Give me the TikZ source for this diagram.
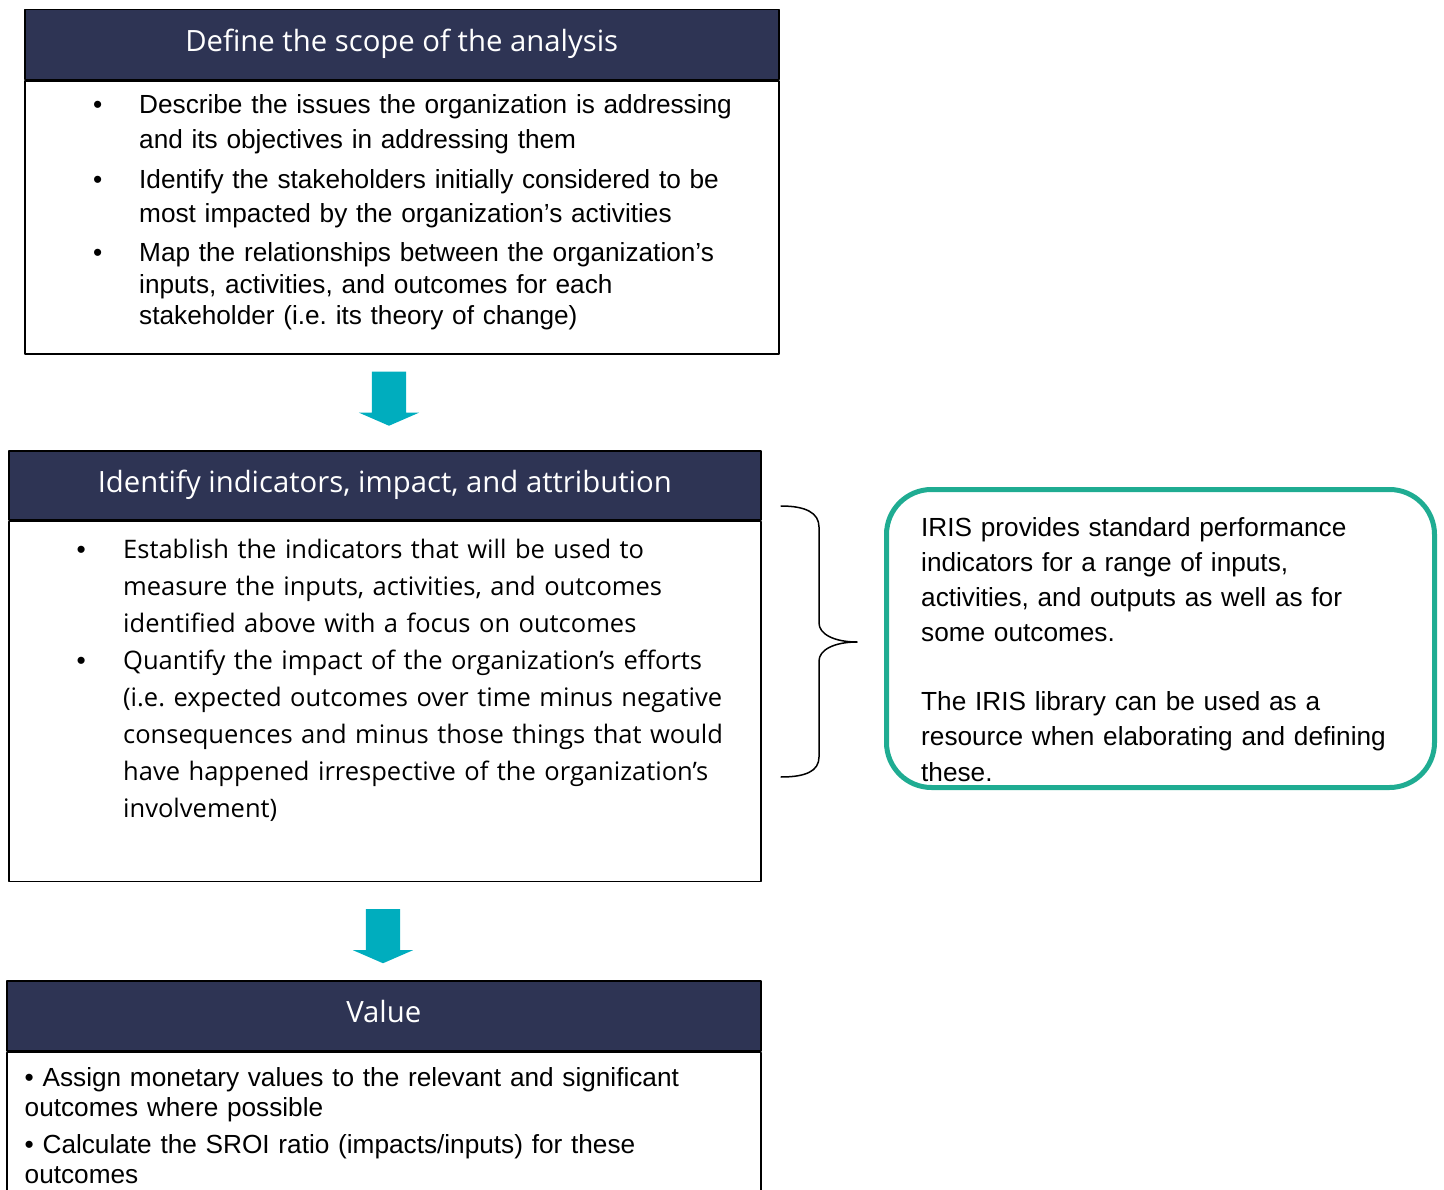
\documentclass[tikz,border=0pt]{standalone}
\usepackage{fontspec}
\setmainfont{Liberation Sans}
\newfontfamily\opensans{Open Sans}
\usepackage{tikz}
\usetikzlibrary{shapes.arrows,positioning}
\frenchspacing
\definecolor{headnavy}{HTML}{2E3454}
\definecolor{arrowcyan}{HTML}{00ADBE}
\definecolor{irisgreen}{HTML}{1FAC92}
\tikzset{
  every picture/.style={line join=round, line cap=round},
  headbox/.style={draw=black, line width=1.5pt, fill=headnavy, minimum height=70, inner sep=0pt,
    text height=21pt, text depth=7pt, text=white, font=\opensans\fontsize{29.3}{35}\selectfont},
  bodybox/.style={draw=black, line width=1.5pt, fill=white, inner sep=0pt},
  flowarrow/.style={single arrow, fill=arrowcyan, draw=none, inner sep=0pt, rotate=-90,
    minimum width=60, minimum height=54, single arrow head extend=13, single arrow tip angle=133},
  dot/.style={anchor=base west, inner sep=0pt, font=\fontsize{26.2}{35}\selectfont},
  arialtext/.style={anchor=base west, inner sep=0pt, align=left, text width=#1},
  opentext/.style={anchor=base west, inner sep=0pt, align=left, text width=#1,
    font=\opensans\fontsize{25.5}{37}\selectfont},
  irisbox/.style={draw=irisgreen, line width=5pt, rounded corners=45, inner sep=0pt},
  brace/.style={draw=black, line width=1.5pt},
}
\begin{document}
\begin{tikzpicture}[x=1pt,y=-1pt]
\useasboundingbox (0,0) rectangle (1444,1190);
\clip (0,0) rectangle (1444,1190);

% first step
\node[headbox, minimum width=754, anchor=north west] (scopehead) at (24,9) {Define the scope of the analysis};
\node[bodybox, minimum width=754, minimum height=273, anchor=north west] (scopebody) at (scopehead.south west) {};
\node[dot] (scopedot1) at (93,114) {•};
\node[arialtext=640, font=\fontsize{26.2}{35}\selectfont] (scopeitem1) at (139,114)
  {Describe the issues the organization is addressing\\and its objectives in addressing them};
\node[dot] (scopedot2) at (93,189) {•};
\node[arialtext=640, font=\fontsize{26.2}{34}\selectfont] (scopeitem2) at (139,189)
  {Identify the stakeholders initially considered to be\\most impacted by the organization’s activities};
\node[dot] (scopedot3) at (93,262) {•};
\node[arialtext=640, font=\fontsize{26.2}{31.5}\selectfont] (scopeitem3) at (139,262)
  {Map the relationships between the organization’s\\inputs, activities, and outcomes for each\\stakeholder (i.e. its theory of change)};

\node[flowarrow] (arrowone) at (389,395) {\rule{0pt}{34pt}};

% second step
\node[headbox, minimum width=752, minimum height=69, anchor=north west] (impacthead) at (8,450) {Identify indicators, impact, and attribution};
\node[bodybox, minimum width=752, minimum height=360, anchor=north west] (impactbody) at (impacthead.south west) {};
\node[dot] (impactdot1) at (76.5,558) {•};
\node[opentext=650] (impactitem1) at (123,558)
  {Establish the indicators that will be used to\\measure the inputs, activities, and outcomes\\identified above with a focus on outcomes};
\node[dot] (impactdot2) at (76.5,669) {•};
\node[opentext=650] (impactitem2) at (123,669)
  {Quantify the impact of the organization’s efforts\\(i.e. expected outcomes over time minus negative\\consequences and minus those things that would\\have happened irrespective of the organization’s\\involvement)};

\node[flowarrow] (arrowtwo) at (383,932.5) {\rule{0pt}{34pt}};

% third step
\node[headbox, minimum width=754, anchor=north west] (valuehead) at (6,980) {Value};
\node[bodybox, minimum width=754, minimum height=220, anchor=north west] (valuebody) at (valuehead.south west) {};
\node[arialtext=730, font=\fontsize{26.2}{30}\selectfont] (valueitem1) at (24.5,1086)
  {• Assign monetary values to the relevant and significant\\outcomes where possible};
\node[arialtext=730, font=\fontsize{26.2}{30}\selectfont] (valueitem2) at (24.5,1153.5)
  {• Calculate the SROI ratio (impacts/inputs) for these\\outcomes};

% IRIS note
\draw[brace] (781,506) .. controls (806,506) and (819,513) .. (819,527) -- (819,623)
  .. controls (819,634) and (834,642) .. (857,642)
  .. controls (834,642) and (819,650) .. (819,661) -- (819,757)
  .. controls (819,771) and (806,777) .. (781,777);
\node[irisbox, minimum width=548, minimum height=298, anchor=north west] (irisnote) at (884,487) {};
\node[arialtext=520, font=\fontsize{26.2}{35}\selectfont] (iristext) at (921,536)
  {IRIS provides standard performance\\indicators for a range of inputs,\\activities, and outputs as well as for\\some outcomes.\\[35pt]The IRIS library can be used as a\\resource when elaborating and defining\\these.};
\end{tikzpicture}
\end{document}
